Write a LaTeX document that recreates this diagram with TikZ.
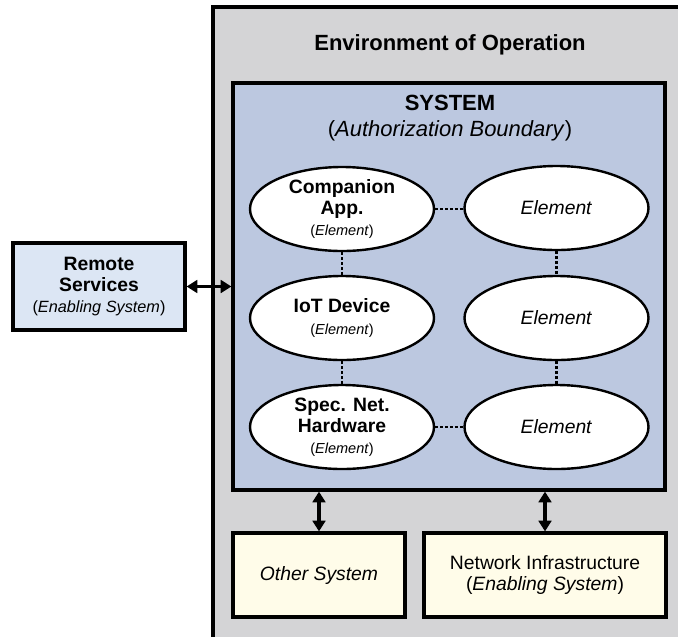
\documentclass[tikz,border=0pt]{standalone}
\usepackage{fontspec}
\setmainfont{Liberation Sans}
\usetikzlibrary{shapes.geometric,arrows.meta}

\definecolor{envgray}{RGB}{212,212,214}
\definecolor{sysblue}{RGB}{188,200,224}
\definecolor{remoteblue}{RGB}{220,230,244}
\definecolor{cream}{RGB}{255,252,233}

\newcommand{\titlefont}{\fontsize{16.5}{19}\selectfont\bfseries}
\newcommand{\bodyfont}{\fontsize{14.5}{15.8}\selectfont}
\newcommand{\tagfont}{\fontsize{10.9}{15.8}\selectfont}

\begin{document}
\begin{tikzpicture}[
  x=0.75pt, y=-0.75pt,
  frame/.style={draw=black, line width=2.4pt},
  boxnode/.style={frame, rectangle, inner sep=0pt, align=center, font=\bodyfont},
  element/.style={ellipse, draw=black, fill=white, line width=1.8pt,
    minimum width=138pt, minimum height=63pt, inner sep=0pt,
    align=center, font=\bodyfont},
  link/.style={line width=2pt, dash pattern=on 2pt off 1.7pt},
  flow/.style={line width=2.6pt,
    {Triangle[length=8pt,width=9.5pt]}-{Triangle[length=8pt,width=9.5pt]}},
]
\useasboundingbox (0,0) rectangle (678,636);
\clip (0,0) rectangle (678,636);

% environment of operation (runs past the right and bottom edges)
\node[frame, fill=envgray, minimum width=365.25pt, minimum height=489.75pt,
      inner sep=0pt] (env) at (456.5,333.5) {};
\node[font=\titlefont] (envtitle) at (450,45) {Environment of Operation};

% system / authorization boundary
\node[frame, fill=sysblue, minimum width=324pt, minimum height=305.25pt,
      inner sep=0pt] (sys) at (449,286.5) {};
\node[font=\titlefont] (systitle) at (450,103) {SYSTEM};
\node[font=\fontsize{16.5}{19}\selectfont] (sysnote) at (450,131)
  {(\textit{Authorization Boundary})};

% elements
\node[element] (app) at (342,209)
  {\textbf{Companion}\\\textbf{App.}\\{\tagfont(\textit{Element})}};
\node[element] (iot) at (342,318)
  {\textbf{IoT Device}\\{\tagfont(\textit{Element})}};
\node[element] (hw) at (342,427)
  {\textbf{Spec. Net.}\\\textbf{Hardware}\\{\tagfont(\textit{Element})}};
\node[element] (e1) at (556.5,208) {\textit{Element}};
\node[element] (e2) at (556.5,318) {\textit{Element}};
\node[element] (e3) at (556.5,427) {\textit{Element}};

\draw[link] (app.east) -- (e1.west |- app.east);
\draw[link] (hw.east) -- (e3.west |- hw.east);
\draw[link] (app.south) -- (iot.north);
\draw[link] (iot.south) -- (hw.north);
\draw[link] (e1.south) -- (e2.north);
\draw[link] (e2.south) -- (e3.north);

% external systems
\node[boxnode, fill=remoteblue, minimum width=129pt, minimum height=65.25pt]
  (remote) at (99,286.5)
  {\textbf{Remote}\\\textbf{Services}\\{\fontsize{12.2}{15}\selectfont(\textit{Enabling System})}};
\node[boxnode, fill=cream, minimum width=129pt, minimum height=63pt]
  (other) at (319,575) {\textit{Other System}};
\node[boxnode, fill=cream, minimum width=181.5pt, minimum height=63pt]
  (net) at (545,575) {Network Infrastructure\\(\textit{Enabling System})};

% interfaces
\draw[flow] (remote.east) -- (sys.west |- remote.east);
\draw[flow] (sys.south -| other.north) -- (other.north);
\draw[flow] (sys.south -| net.north) -- (net.north);
\end{tikzpicture}
\end{document}
